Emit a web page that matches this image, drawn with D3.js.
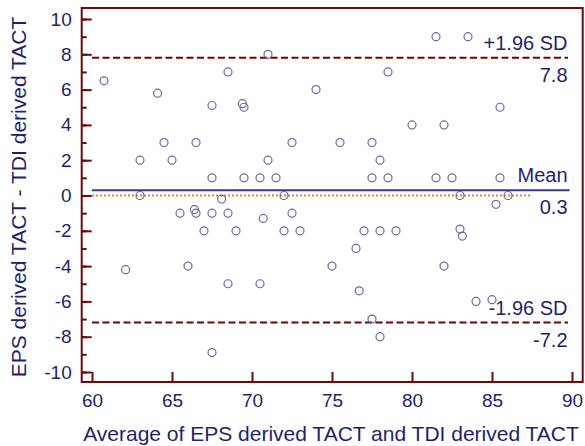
<!DOCTYPE html>
<html>
<head>
<meta charset="utf-8">
<script src="https://cdn.jsdelivr.net/npm/d3@7"></script>
<style>
body { margin: 0; background: #fff; }
text { font-family: "Liberation Sans", Arial, sans-serif; }
</style>
</head>
<body>
<div id="chart"></div>
<script>
// averages (x) and differences (y)
var avgValues = [60.75, 63.0, 63.0, 64.1, 64.5, 65.0, 66.5, 67.5, 67.5, 68.5, 68.1, 69.4, 69.5, 69.5,
    71.0, 74.0, 78.5, 80.0, 72.5, 75.5, 77.5, 71.0, 78.0, 70.5, 71.5, 77.5, 78.5, 72.0,
    81.5, 83.5, 85.5, 82.0, 81.5, 82.5, 85.5, 83.0, 86.0, 65.5, 66.4, 66.5, 67.5, 68.5,
    67.0, 69.0, 62.1, 66.0, 68.5, 67.5, 70.7, 72.5, 72.0, 73.0, 77.0, 78.0, 79.0, 76.5,
    75.0, 70.5, 76.7, 77.5, 78.0, 85.25, 83.0, 83.15, 82.0, 84.0, 85.0];
var diffValues = [6.5, 2, 0, 5.8, 3, 2, 3, 5.1, 1, 7, -0.2, 5.2, 5.0, 1,
    8, 6, 7, 4, 3, 3, 3, 2, 2, 1, 1, 1, 1, 0,
    9, 9, 5, 4, 1, 1, 1, 0, 0, -1, -0.8, -1, -1, -1,
    -2, -2, -4.2, -4, -5, -8.9, -1.3, -1, -2, -2, -2, -2, -2, -3,
    -4, -5, -5.4, -7, -8, -0.5, -1.9, -2.3, -4, -6, -5.9];

var limitValues = [7.8, 0.3, -7.2];
var limitNames = ["+1.96 SD", "Mean", "-1.96 SD"];
var limitLabels = ["7.8", "0.3", "-7.2"];

var xTicks = [60, 65, 70, 75, 80, 85, 90];
var yTicks = [-10, -8, -6, -4, -2, 0, 2, 4, 6, 8, 10];

var width = 585, height = 446;
var navy = "#1f1f6e", maroon = "#6e0a0a";

var x = d3.scaleLinear().domain([60, 90]).range([92, 572]);
var y = d3.scaleLinear().domain([-10, 10]).range([372, 19]);

var svg = d3.select("#chart")
    .append("svg")
    .attr("width", width)
    .attr("height", height);

var frameLeft = x(60) - 10.3, frameRight = x(90) + 10.7,
    frameTop = y(10) - 11, frameBottom = y(-10) + 10;

// zero line
svg.append("line")
    .attr("x1", x(60)).attr("x2", x(87.5))
    .attr("y1", y(0)).attr("y2", y(0))
    .style("stroke", "#e0872a")
    .style("stroke-width", 2)
    .style("stroke-dasharray", "2,2");

// mean and limits
limitValues.forEach(function(v, i) {
    var isMean = i == 1;
    svg.append("line")
        .attr("x1", x(60)).attr("x2", x(isMean ? 89.85 : 89.75))
        .attr("y1", y(v)).attr("y2", y(v))
        .style("stroke", isMean ? "#3a3a8c" : "#780000")
        .style("stroke-width", 2)
        .style("stroke-dasharray", isMean ? null : "7,3.5");
    svg.append("text")
        .attr("x", x(89.72)).attr("y", y(v) - 8)
        .attr("text-anchor", "end")
        .style("font-size", "20px").style("fill", navy)
        .text(limitNames[i]);
    svg.append("text")
        .attr("x", x(89.72)).attr("y", y(v) + 24)
        .attr("text-anchor", "end")
        .style("font-size", "20px").style("fill", navy)
        .text(limitLabels[i]);
});

// points
svg.selectAll("circle")
    .data(avgValues)
    .enter()
    .append("circle")
    .attr("cx", function(d) { return x(d); })
    .attr("cy", function(d, i) { return y(diffValues[i]); })
    .attr("r", 4)
    .style("fill", "none")
    .style("stroke", "#6a6aa6")
    .style("stroke-width", 1.2);

// frame
svg.append("rect")
    .attr("x", frameLeft).attr("y", frameTop)
    .attr("width", frameRight - frameLeft).attr("height", frameBottom - frameTop)
    .style("fill", "none")
    .style("stroke", maroon)
    .style("stroke-width", 2);

// y axis, minor then major ticks
var yMinor = svg.append("g")
    .attr("transform", "translate(" + frameLeft + ",0)")
    .call(d3.axisLeft(y).tickValues(d3.range(-10, 11, 1)).tickSize(-5).tickFormat(""));
var yAxis = svg.append("g")
    .attr("transform", "translate(" + frameLeft + ",0)")
    .call(d3.axisLeft(y).tickValues(yTicks).tickSize(-10).tickPadding(10)
        .tickFormat(function(d) { return String(d); }));

var xAxis = svg.append("g")
    .attr("transform", "translate(0," + frameBottom + ")")
    .call(d3.axisBottom(x).tickValues(xTicks).tickSize(-10).tickPadding(12));

[yMinor, yAxis, xAxis].forEach(function(g) {
    g.select(".domain").remove();
    g.selectAll("line").style("stroke", maroon).style("stroke-width", 2);
    g.selectAll("text").style("font-size", "19px").style("fill", navy)
        .style("font-family", "'Liberation Sans', Arial, sans-serif");
});

// axis titles
svg.append("text")
    .attr("x", 331).attr("y", 441)
    .attr("text-anchor", "middle")
    .style("font-size", "21px").style("fill", navy)
    .text("Average of EPS derived TACT and TDI derived TACT");

svg.append("text")
    .attr("transform", "translate(26," + 197 + ") rotate(-90)")
    .attr("text-anchor", "middle")
    .style("font-size", "21px").style("fill", navy)
    .text("EPS derived TACT - TDI derived TACT");
</script>
</body>
</html>
